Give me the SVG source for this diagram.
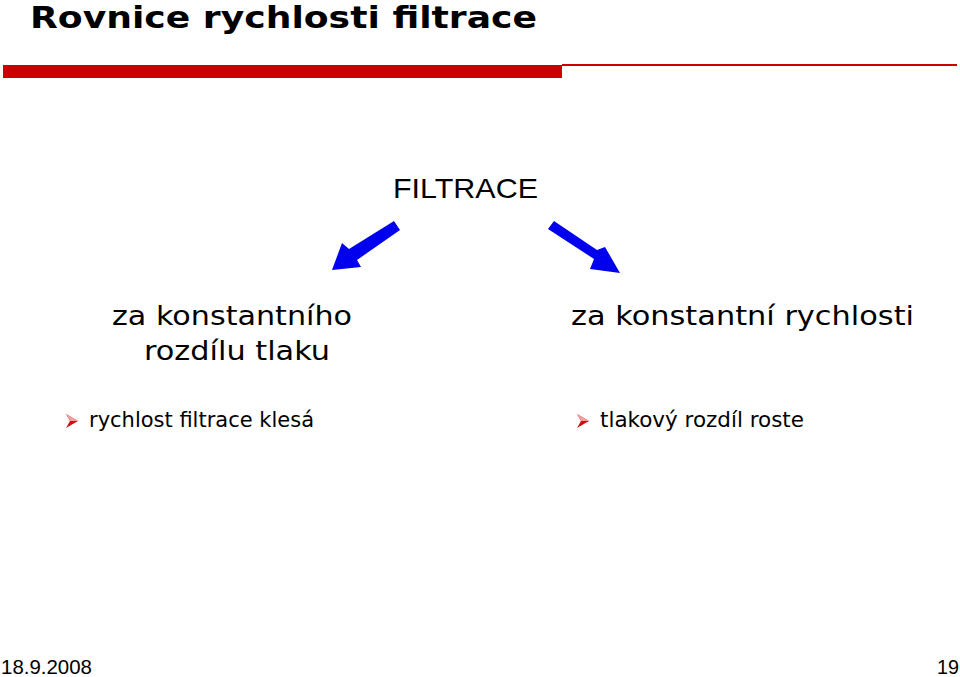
<svg xmlns="http://www.w3.org/2000/svg" width="960" height="677" viewBox="0 0 960 677">
<defs>
<style>
.t{font-family:"DejaVu Sans",Verdana,sans-serif;fill:#000}
.a{font-family:"Liberation Sans",Arial,sans-serif;fill:#000}
.arr{fill:#0000ee}
</style>
<g id="bul">
<polygon points="0,0 12,7 0,14 4,7" fill="#cc1111"/>
<polygon points="0,0 12,7 4,7" fill="#f0a0a0"/>
</g>
</defs>
<rect width="960" height="677" fill="#fff"/>
<g id="title">
<text class="t" x="30" y="28" font-size="31" font-weight="bold" textLength="507" lengthAdjust="spacingAndGlyphs">Rovnice rychlosti filtrace</text>
<rect x="3" y="65" width="559" height="13" fill="#cc0000"/>
<rect x="562" y="64" width="395" height="2" fill="#cc0000"/>
</g>
<g id="root">
<text class="a" x="393" y="198" font-size="28" textLength="145" lengthAdjust="spacingAndGlyphs">FILTRACE</text>
</g>
<g id="left">
<text class="t" x="112" y="325" font-size="27" textLength="240" lengthAdjust="spacingAndGlyphs">za konstantního</text>
<text class="t" x="144" y="360" font-size="27" textLength="186" lengthAdjust="spacingAndGlyphs">rozdílu tlaku</text>
<use href="#bul" x="66" y="414"/>
<text class="t" x="89" y="427" font-size="21" textLength="225" lengthAdjust="spacingAndGlyphs">rychlost filtrace klesá</text>
</g>
<g id="right">
<text class="t" x="571" y="325" font-size="27" textLength="343" lengthAdjust="spacingAndGlyphs">za konstantní rychlosti</text>
<use href="#bul" x="577" y="414"/>
<text class="t" x="600" y="427" font-size="21" textLength="204" lengthAdjust="spacingAndGlyphs">tlakový rozdíl roste</text>
</g>
<g id="connectors">
<polygon class="arr" points="394,221 400,230 357,260 361,267 332,270 342,243 349,249"/>
<polygon class="arr" points="548,229 554,221 597,250 605,247 620,273 590,269 594,259"/>
</g>
<g id="footer">
<text class="a" x="1" y="674" font-size="20" textLength="91" lengthAdjust="spacingAndGlyphs">18.9.2008</text>
<text class="a" x="937" y="674" font-size="20" textLength="22" lengthAdjust="spacingAndGlyphs">19</text>
</g>
</svg>
